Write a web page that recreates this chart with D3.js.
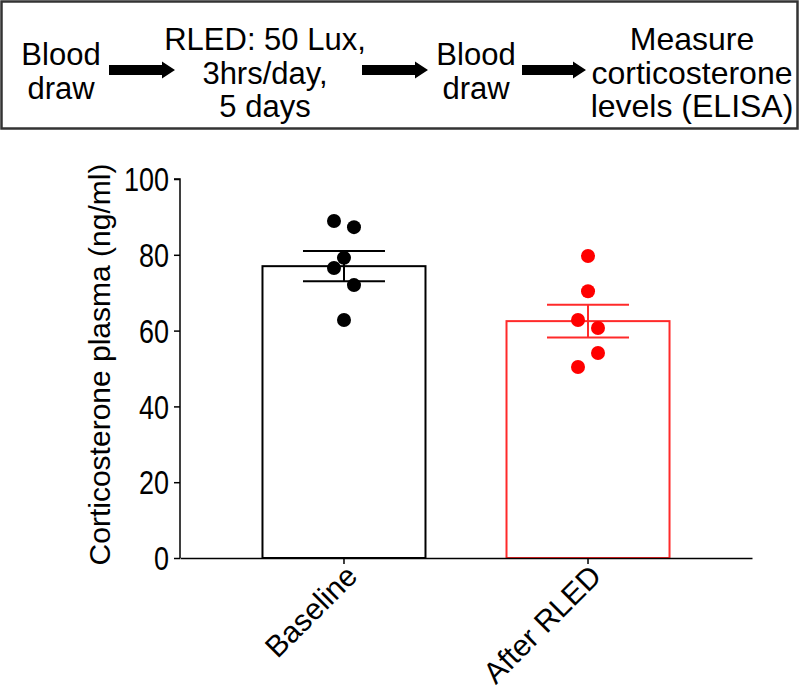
<!DOCTYPE html>
<html><head><meta charset="utf-8">
<script src="https://cdn.jsdelivr.net/npm/d3@7/dist/d3.min.js"></script>
<style>
body{margin:0;background:#fff;}
text{font-family:"Liberation Sans",Arial,Helvetica,sans-serif;fill:#000;}
</style></head>
<body><svg id="c" width="800" height="690"></svg>
<script>
// ---- data ----
const categories = ["Baseline", "After RLED"];
const means = [77.0, 62.5];
const sems = [4.0, 4.3];
const baselinePoints = [88.9, 87.3, 79.2, 76.5, 72.0, 62.8];
const baselineColumn = [-1, 1, 0, -1, 1, 0];
const afterPoints = [79.7, 70.4, 62.8, 60.7, 54.1, 50.4];
const afterColumn = [0, 0, -1, 1, 1, -1];
const yTicks = [0, 20, 40, 60, 80, 100];
const yLabel = "Corticosterone plasma (ng/ml)";
const steps = [["Blood", "draw"], ["RLED: 50 Lux,", "3hrs/day,", "5 days"], ["Blood", "draw"], ["Measure", "corticosterone", "levels (ELISA)"]];

const colors = ["#000000", "#ff0000"];
const barStroke = ["#000000", "#ff2a2a"];

const svg = d3.select("#c");

// ---- top workflow box ----
svg.append("rect").attr("x", 1.5).attr("y", 1.5).attr("width", 796).attr("height", 127)
  .attr("fill", "#fff").attr("stroke", "#333").attr("stroke-width", 2.5);
const stepX = [61, 265, 476, 692];
const stepFont = [31, 31, 31, 32];
const lh = 33.5;
steps.forEach((lines, i) => {
  const n = lines.length;
  const y0 = n === 3 ? 50 : 65;
  lines.forEach((l, j) => {
    svg.append("text").attr("x", stepX[i]).attr("y", y0 + j * lh)
      .attr("text-anchor", "middle").attr("font-size", stepFont[i]).text(l);
  });
});
const arrows = [[109, 175], [362, 428], [522, 586]];
arrows.forEach(([a, b]) => {
  const yc = 70, hh = 5, head = 13, hw = 8.5;
  svg.append("path").attr("fill", "#000")
    .attr("d", `M${a},${yc - hh}L${b - head},${yc - hh}L${b - head},${yc - hw}L${b},${yc}L${b - head},${yc + hw}L${b - head},${yc + hh}L${a},${yc + hh}Z`);
});

// ---- chart ----
const x = d3.scaleBand().domain(categories).range([180, 752]).paddingInner(0.332).paddingOuter(0.338);
const y = d3.scaleLinear().domain([0, 100]).range([558, 179]);
const g = svg.append("g");

// bars
g.selectAll("rect.bar").data(categories).join("rect").attr("class", "bar")
  .attr("x", d => x(d)).attr("width", x.bandwidth())
  .attr("y", (d, i) => y(means[i])).attr("height", (d, i) => y(0) - y(means[i]))
  .attr("fill", "#fff").attr("stroke", (d, i) => barStroke[i]).attr("stroke-width", 2);

// error bars
categories.forEach((c, i) => {
  const cx = x(c) + x.bandwidth() / 2, cw = 41;
  const eg = g.append("g").attr("stroke", barStroke[i]).attr("stroke-width", 2);
  eg.append("line").attr("x1", cx).attr("x2", cx).attr("y1", y(means[i] + sems[i])).attr("y2", y(means[i] - sems[i]));
  [means[i] + sems[i], means[i] - sems[i]].forEach(v =>
    eg.append("line").attr("x1", cx - cw).attr("x2", cx + cw).attr("y1", y(v)).attr("y2", y(v)));
});

// points
const groups = [[baselinePoints, baselineColumn], [afterPoints, afterColumn]];
groups.forEach(([pts, col], i) => {
  const cx = x(categories[i]) + x.bandwidth() / 2;
  g.selectAll(null).data(pts).join("circle")
    .attr("cx", (d, k) => cx + col[k] * 10).attr("cy", d => y(d)).attr("r", 7)
    .attr("fill", colors[i]);
});

// axes
const yAxis = g.append("g").attr("transform", "translate(180,0)")
  .call(d3.axisLeft(y).tickValues(yTicks).tickSize(6).tickPadding(5));
yAxis.select(".domain").attr("stroke", "#000").attr("stroke-width", 1.5).attr("d", `M-6,${y(100)}H0V${y(0)}`);
yAxis.selectAll(".tick line").attr("stroke", "#000").attr("stroke-width", 1.5);
yAxis.selectAll(".tick text").attr("font-size", 27).attr("fill", "#000").attr("dy", "0.36em")
  .attr("transform", "scale(1,1.2)")
  .attr("font-family", '"Liberation Sans",Arial,sans-serif');

const xAxis = g.append("g").attr("transform", "translate(0,558)")
  .call(d3.axisBottom(x).tickSize(6).tickSizeOuter(0));
xAxis.select(".domain").attr("stroke", "#000").attr("stroke-width", 1.5);
xAxis.selectAll(".tick line").attr("stroke", "#000").attr("stroke-width", 1.5);
xAxis.selectAll(".tick text").attr("font-size", 30).attr("fill", "#000")
  .attr("font-family", '"Liberation Sans",Arial,sans-serif')
  .attr("text-anchor", "end").attr("y", 0).attr("dy", 0)
  .attr("transform", "translate(15,20) rotate(-45)");

// y label
svg.append("text").attr("transform", `translate(110,${(y(0) + y(100)) / 2 - 4}) rotate(-90)`)
  .attr("text-anchor", "middle").attr("font-size", 30).text(yLabel);
</script></body></html>
